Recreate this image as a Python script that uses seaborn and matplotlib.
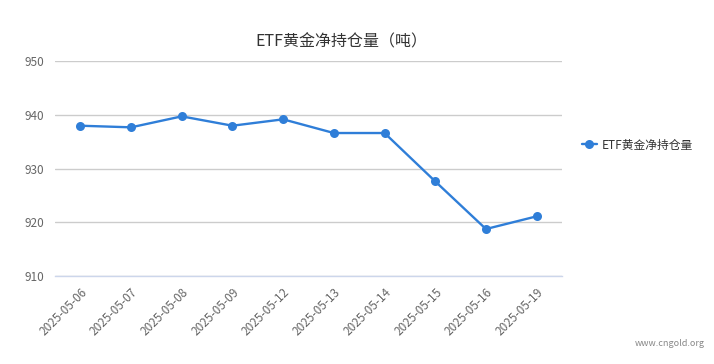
import matplotlib
matplotlib.use('Agg')
import matplotlib.pyplot as plt
import pandas as pd
import seaborn as sns

# ETF gold holdings (tonnes)
dates = ['2025-05-06', '2025-05-07', '2025-05-08', '2025-05-09', '2025-05-12',
         '2025-05-13', '2025-05-14', '2025-05-15', '2025-05-16', '2025-05-19']
holdings = [937.96, 937.66, 939.70, 937.96, 939.15,
            936.60, 936.60, 927.60, 918.74, 921.10]
y_ticks = [910, 920, 930, 940, 950]

SERIES = '#2f7ed8'
GRID = '#cccccc'
AXIS = '#ccd6eb'
LABEL = '#666666'
TITLE = '#333333'
NAME = 'ETF黄金净持仓量'

sns.set_style('white')
plt.rcParams['font.family'] = ['Noto Sans CJK SC', 'DejaVu Sans']

df = pd.DataFrame({'date': dates, 'value': holdings})

fig = plt.figure(figsize=(7.14, 3.64), dpi=100)
ax = fig.add_axes([55 / 714, 1 - 276 / 364, 507 / 714, 215 / 364])

sns.lineplot(data=df, x='date', y='value', ax=ax, color=SERIES, linewidth=1.7,
             marker='o', markersize=6.5, markeredgewidth=0, label=NAME, sort=False)

ax.set_xlim(-0.5, len(dates) - 0.5)
ax.set_ylim(y_ticks[0], y_ticks[-1])
ax.set_yticks(y_ticks)
ax.yaxis.grid(True, color=GRID, linewidth=1)
ax.set_axisbelow(True)
for side in ['top', 'right', 'left']:
    ax.spines[side].set_visible(False)
ax.spines['bottom'].set_color(AXIS)
ax.spines['bottom'].set_linewidth(1)

# category boundaries carry the tick marks, labels sit at category centres
ax.set_xticks(range(len(dates)))
ax.set_xticklabels(dates, rotation=45, ha='right', rotation_mode='anchor',
                   fontsize=8.5, color=LABEL)
ax.set_xticks([i - 0.5 for i in range(len(dates) + 1)], minor=True)
ax.tick_params(axis='x', which='major', length=0, pad=7)
ax.tick_params(axis='x', which='minor', length=5, color=AXIS, width=1)
ax.tick_params(axis='y', length=0, labelsize=8.5, labelcolor=LABEL, pad=8)
ax.set_xlabel('')
ax.set_ylabel('')

ax.legend(loc='center left', bbox_to_anchor=(571 / 714, 1 - 145 / 364),
          bbox_transform=fig.transFigure, frameon=False, fontsize=8.5,
          handlelength=1.3, handletextpad=0.4, labelcolor=TITLE)

fig.text(341 / 714, 1 - 42 / 364, 'ETF黄金净持仓量（吨）', ha='center', va='center',
         fontsize=11.5, color=TITLE)
fig.text(705 / 714, 1 - 343 / 364, 'www.cngold.org', ha='right', va='center',
         fontsize=6.5, color='#888888')

fig.savefig('out.png', dpi=100)
